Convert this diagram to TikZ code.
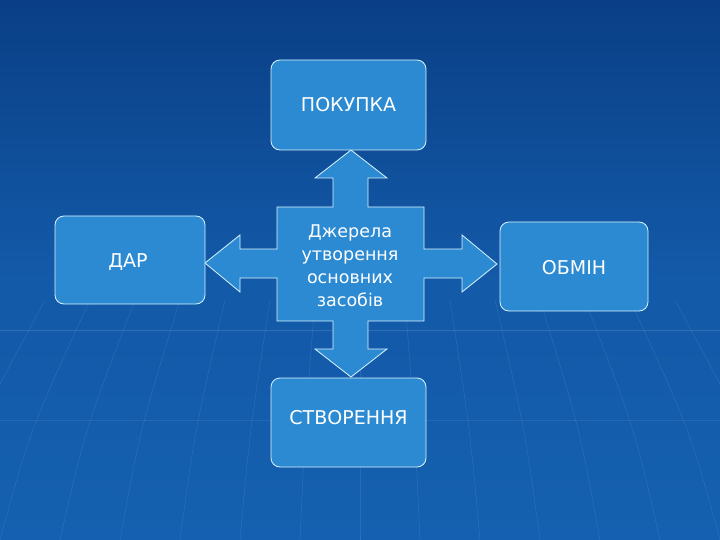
\documentclass[tikz,border=0pt]{standalone}
\usepackage{fontspec}
\setmainfont{DejaVu Sans}
\begin{document}
\begin{tikzpicture}[x=1pt,y=-1pt,
  box/.style={draw=white!85!cyan,line width=0.8pt,fill=boxc,rounded corners=9pt},
  lbl/.style={text=white,font=\fontsize{19}{22}\selectfont,align=center}]
\definecolor{boxc}{HTML}{2C8AD2}
\definecolor{bgtop}{HTML}{0A3F86}
\definecolor{bgbot}{HTML}{1560B0}
\shade[top color=bgtop,bottom color=bgbot,middle color=bgbot!80!bgtop] (0,0) rectangle (720,540);
\useasboundingbox (0,0) rectangle (720,540);
\foreach \i in {-8,...,8} {
  \draw[white,opacity=0.12] (360+\i*45,300) .. controls (360+\i*55,430) .. (360+\i*60,540);
}
\draw[white,opacity=0.12] (0,330) -- (720,330);
\draw[white,opacity=0.08] (0,420) -- (720,420);
\draw[box,rounded corners=0pt] (277,207) -- (333,207) -- (333,178) -- (315,178) -- (351,150) -- (387,178) -- (368,178) -- (368,207) -- (424,207)
  -- (424,249) -- (462,249) -- (462,235) -- (497,264) -- (462,292) -- (462,278) -- (424,278)
  -- (424,321) -- (368,321) -- (368,349) -- (387,349) -- (351,377) -- (315,349) -- (333,349) -- (333,321) -- (277,321)
  -- (277,278) -- (240,278) -- (240,292) -- (205,263) -- (240,235) -- (240,249) -- (277,249) -- cycle;
\node[lbl,font=\fontsize{17.5}{23}\selectfont] (c) at (350,266) {Джерела\\утворення\\основних\\засобів};
\draw[box] (271,60) rectangle (426,150); \node[lbl] (p) at (348.5,105) {ПОКУПКА};
\draw[box] (55,216) rectangle (205,304); \node[lbl] (d) at (128,262) {ДАР};
\draw[box] (500,222) rectangle (648,311); \node[lbl] (o) at (574,268) {ОБМІН};
\draw[box] (271,378) rectangle (426,467); \node[lbl] (s) at (348.5,418) {СТВОРЕННЯ};
\end{tikzpicture}
\end{document}
